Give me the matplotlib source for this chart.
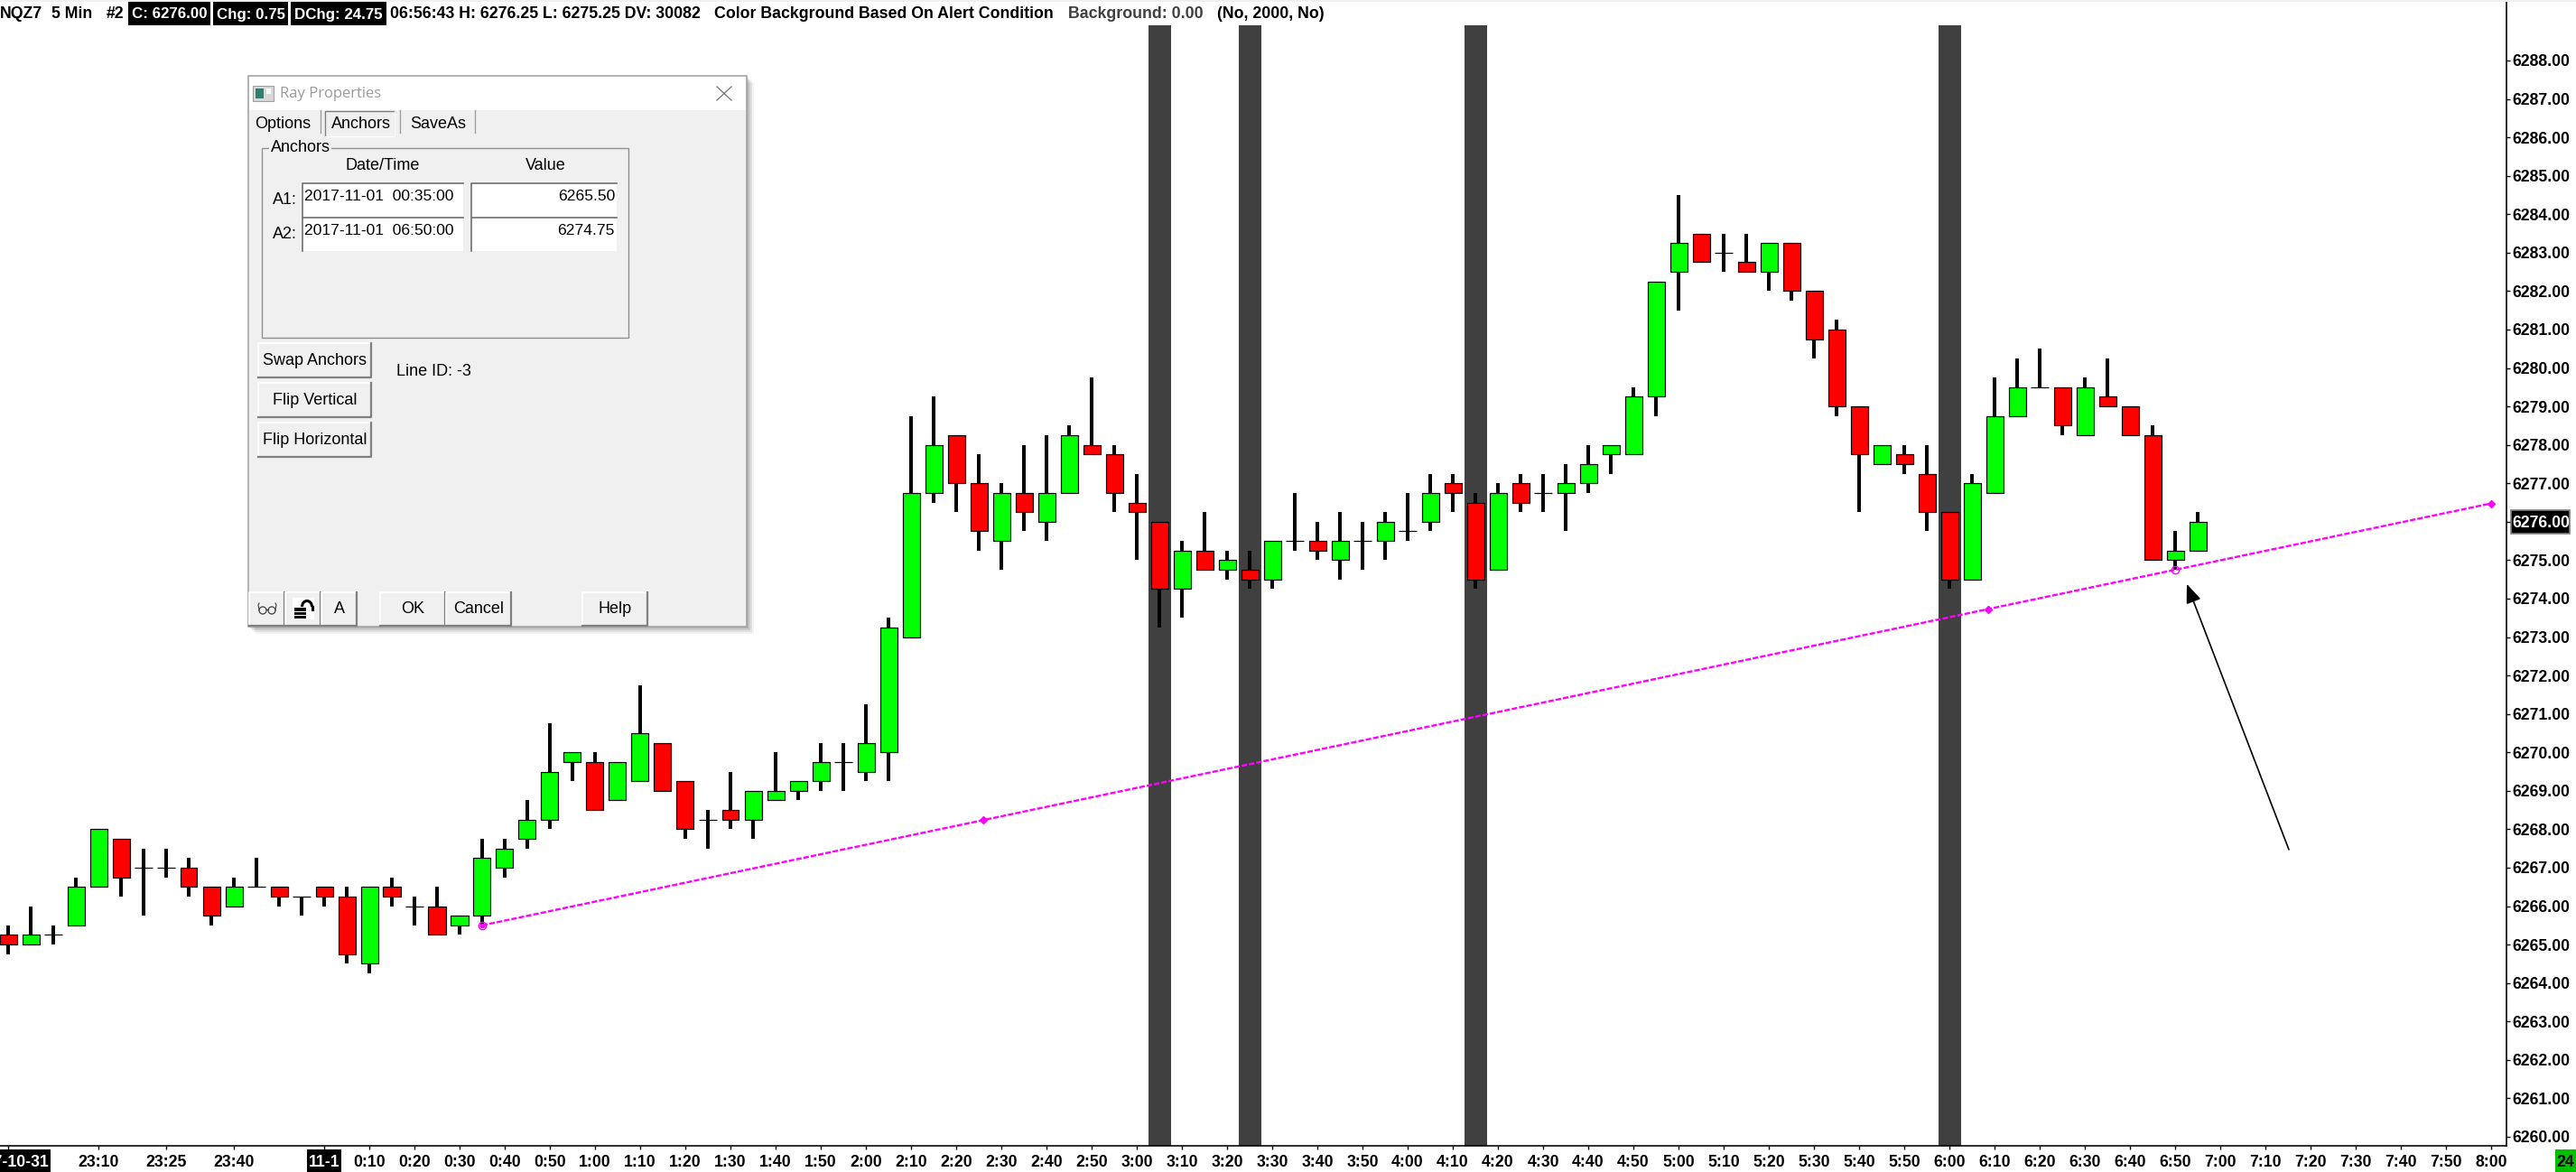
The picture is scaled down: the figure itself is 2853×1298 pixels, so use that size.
import matplotlib
matplotlib.use('Agg')
import matplotlib.pyplot as plt
from matplotlib.patches import Rectangle, Circle, Arc

#=========================#
# data
#=========================#

bar_open = [
    6265.25, 6265.00, 6265.25, 6265.50, 6266.50, 6267.75, 6267.00, 6267.00, 6267.00, 6266.50,
    6266.00, 6266.50, 6266.50, 6266.25, 6266.50, 6266.25, 6264.50, 6266.50, 6266.00, 6266.00,
    6265.50, 6265.75, 6267.00, 6267.75, 6268.25, 6269.75, 6269.75, 6268.75, 6269.25, 6270.25,
    6269.25, 6268.25, 6268.50, 6268.25, 6268.75, 6269.00, 6269.25, 6269.75, 6269.50, 6270.00,
    6273.00, 6276.75, 6278.25, 6277.00, 6275.50, 6276.75, 6276.00, 6276.75, 6278.00, 6277.75,
    6276.50, 6276.00, 6274.25, 6275.25, 6274.75, 6274.75, 6274.50, 6275.50, 6275.50, 6275.00,
    6275.50, 6275.50, 6275.75, 6276.00, 6277.00, 6276.50, 6274.75, 6277.00, 6276.75, 6276.75,
    6277.00, 6277.75, 6277.75, 6279.25, 6282.50, 6283.50, 6283.00, 6282.75, 6282.50, 6283.25,
    6282.00, 6281.00, 6279.00, 6277.50, 6277.75, 6277.25, 6276.25, 6274.50, 6276.75, 6278.75,
    6279.50, 6279.50, 6278.25, 6279.25, 6279.00, 6278.25, 6275.00, 6275.25,
]
bar_close = [
    6265.00, 6265.25, 6265.25, 6266.50, 6268.00, 6266.75, 6267.00, 6267.00, 6266.50, 6265.75,
    6266.50, 6266.50, 6266.25, 6266.25, 6266.25, 6264.75, 6266.50, 6266.25, 6266.00, 6265.25,
    6265.75, 6267.25, 6267.50, 6268.25, 6269.50, 6270.00, 6268.50, 6269.75, 6270.50, 6269.00,
    6268.00, 6268.25, 6268.25, 6269.00, 6269.00, 6269.25, 6269.75, 6269.75, 6270.25, 6273.25,
    6276.75, 6278.00, 6277.00, 6275.75, 6276.75, 6276.25, 6276.75, 6278.25, 6277.75, 6276.75,
    6276.25, 6274.25, 6275.25, 6274.75, 6275.00, 6274.50, 6275.50, 6275.50, 6275.25, 6275.50,
    6275.50, 6276.00, 6275.75, 6276.75, 6276.75, 6274.50, 6276.75, 6276.50, 6276.75, 6277.00,
    6277.50, 6278.00, 6279.25, 6282.25, 6283.25, 6282.75, 6283.00, 6282.50, 6283.25, 6282.00,
    6280.75, 6279.00, 6277.75, 6278.00, 6277.50, 6276.25, 6274.50, 6277.00, 6278.75, 6279.50,
    6279.50, 6278.50, 6279.50, 6279.00, 6278.25, 6275.00, 6275.25, 6276.00,
]
bar_high = [
    6265.50, 6266.00, 6265.50, 6266.75, 6268.00, 6267.75, 6267.50, 6267.50, 6267.25, 6266.50,
    6266.75, 6267.25, 6266.50, 6266.25, 6266.50, 6266.50, 6266.50, 6266.75, 6266.25, 6266.50,
    6265.75, 6267.75, 6267.75, 6268.75, 6270.75, 6270.00, 6270.00, 6269.75, 6271.75, 6270.25,
    6269.25, 6268.50, 6269.50, 6269.00, 6270.00, 6269.25, 6270.25, 6270.25, 6271.25, 6273.50,
    6278.75, 6279.25, 6278.25, 6277.75, 6277.00, 6278.00, 6278.25, 6278.50, 6279.75, 6278.00,
    6277.25, 6276.00, 6275.50, 6276.25, 6275.25, 6275.25, 6275.50, 6276.75, 6276.00, 6276.25,
    6276.00, 6276.25, 6276.75, 6277.25, 6277.25, 6276.75, 6277.00, 6277.25, 6277.25, 6277.50,
    6278.00, 6278.00, 6279.50, 6282.25, 6284.50, 6283.50, 6283.50, 6283.50, 6283.25, 6283.25,
    6282.00, 6281.25, 6279.00, 6278.00, 6278.00, 6278.00, 6276.25, 6277.25, 6279.75, 6280.25,
    6280.50, 6279.50, 6279.75, 6280.25, 6279.00, 6278.50, 6275.75, 6276.25,
]
bar_low = [
    6264.75, 6265.00, 6265.00, 6265.50, 6266.50, 6266.25, 6265.75, 6266.75, 6266.25, 6265.50,
    6266.00, 6266.50, 6266.00, 6265.75, 6266.00, 6264.50, 6264.25, 6266.00, 6265.50, 6265.25,
    6265.25, 6265.50, 6266.75, 6267.50, 6268.00, 6269.25, 6268.50, 6268.75, 6269.25, 6269.00,
    6267.75, 6267.50, 6268.00, 6267.75, 6268.75, 6268.75, 6269.00, 6269.00, 6269.25, 6269.25,
    6273.00, 6276.50, 6276.25, 6275.25, 6274.75, 6275.75, 6275.50, 6276.75, 6277.75, 6276.25,
    6275.00, 6273.25, 6273.50, 6274.75, 6274.50, 6274.25, 6274.25, 6275.25, 6275.00, 6274.50,
    6274.75, 6275.00, 6275.50, 6275.75, 6276.25, 6274.25, 6274.75, 6276.25, 6276.25, 6275.75,
    6276.75, 6277.25, 6277.75, 6278.75, 6281.50, 6282.75, 6282.50, 6282.50, 6282.00, 6281.75,
    6280.25, 6278.75, 6276.25, 6277.50, 6277.25, 6275.75, 6274.25, 6274.50, 6276.75, 6278.75,
    6279.50, 6278.25, 6278.25, 6279.00, 6278.25, 6275.00, 6274.75, 6275.25,
]

# bars with the alert background (3:05, 3:25, 4:15, 6:00)
alert_bars = [51, 55, 65, 86]

# ray anchors (bar, price) and its small diamonds
anchor_bars = [21, 96]
anchor_prices = [6265.50, 6274.75]
ray_end_bar = 110
ray_mark_bars = [43.2, 87.7, 110]

price_ticks = [6288, 6287, 6286, 6285, 6284, 6283, 6282, 6281, 6280, 6279, 6278, 6277, 6276, 6275,
               6274, 6273, 6272, 6271, 6270, 6269, 6268, 6267, 6266, 6265, 6264, 6263, 6262, 6261, 6260]

time_tick_bars = [0, 4, 7, 10, 14] + list(range(16, 111, 2))
time_tick_labels = ['2017-10-31', '23:10', '23:25', '23:40', '11-1',
                    '0:10', '0:20', '0:30', '0:40', '0:50', '1:00', '1:10', '1:20', '1:30', '1:40', '1:50',
                    '2:00', '2:10', '2:20', '2:30', '2:40', '2:50', '3:00', '3:10', '3:20', '3:30', '3:40', '3:50',
                    '4:00', '4:10', '4:20', '4:30', '4:40', '4:50', '5:00', '5:10', '5:20', '5:30', '5:40', '5:50',
                    '6:00', '6:10', '6:20', '6:30', '6:40', '6:50', '7:00', '7:10', '7:20', '7:30', '7:40', '7:50', '8:00']

#=========================#
# settings
#=========================#

W, H = 2853, 1298
chart_font = 'Liberation Sans'
tick_size = 12.7
green = '#00ff00'
red = '#ff0000'
magenta = '#ff00ff'
px = 0.72  # one pixel in points at dpi 100

fig = plt.figure(figsize=(W / 100, H / 100), dpi=100, facecolor='white')


def pixel_axes(zorder):
    a = fig.add_axes([0, 0, 1, 1], zorder=zorder)
    a.set_xlim(0, W)
    a.set_ylim(H, 0)
    a.axis('off')
    a.patch.set_alpha(0)
    return a


# black label boxes sit under the chart's tick labels
under = pixel_axes(-1)
under.add_patch(Rectangle((0, 1273), 56, 25, facecolor='black', lw=0))
under.add_patch(Rectangle((340, 1273), 38, 25, facecolor='black', lw=0))
under.add_patch(Rectangle((2781, 565), 65, 26, facecolor='black', edgecolor='#808080', lw=1.2))

# chart area runs to x=2776 and y=1269 in pixels
ax = fig.add_axes([0, 1 - 1269 / H, 2776 / W, (1269 - 2) / H])
ax.set_xlim(-9 / 25, (2776 - 9) / 25)
ax.set_ylim(6288 - (1269 - 67) / 42.57, 6288 + (67 - 2) / 42.57)

#=========================#
# candles
#=========================#

for b in alert_bars:
    ax.axvspan(b - 0.5, b + 0.5, ymax=1 - 26 / 1267, color='#404040', lw=0, zorder=1)

for i in range(len(bar_open)):
    o, c = bar_open[i], bar_close[i]
    ax.vlines(i, bar_low[i], bar_high[i], color='black', lw=4 * px, zorder=2)
    if o == c:
        ax.hlines(o, i - 0.4, i + 0.4, color='black', lw=1.2 * px, zorder=3)
    else:
        ax.bar(i, abs(c - o), 0.76, bottom=min(o, c), color=green if c > o else red,
               edgecolor='black', linewidth=1.2 * px, zorder=3)

#=========================#
# ray and arrow
#=========================#

slope = (anchor_prices[1] - anchor_prices[0]) / (anchor_bars[1] - anchor_bars[0])
ray_value = lambda b: anchor_prices[0] + slope * (b - anchor_bars[0])

ax.plot([anchor_bars[0], ray_end_bar], [anchor_prices[0], ray_value(ray_end_bar)], color=magenta,
        lw=1.7, dashes=(2.6, 0.9), zorder=4)
ax.plot(ray_mark_bars, [ray_value(b) for b in ray_mark_bars], ls='none', marker='D', ms=4,
        color=magenta, zorder=5)
ax.plot(anchor_bars, anchor_prices, ls='none', marker='o', ms=6, mfc='none', mec=magenta,
        mew=1, zorder=5)
ax.plot(anchor_bars[0], anchor_prices[0], ls='none', marker='o', ms=3, color=magenta, zorder=5)

ax.annotate('', xy=(96.52, 6274.38), xytext=(101.04, 6267.47),
            arrowprops=dict(arrowstyle='-|>,head_length=0.8,head_width=0.32', color='black',
                            lw=1.2, mutation_scale=16, shrinkA=0, shrinkB=0), zorder=6)

#=========================#
# axes
#=========================#

ax.spines['left'].set_visible(False)
ax.spines['top'].set_visible(False)
ax.spines['right'].set_linewidth(1.6 * px)
ax.spines['bottom'].set_linewidth(1.6 * px)

ax.yaxis.tick_right()
ax.set_yticks(price_ticks)
ax.set_yticklabels(['%.2f' % p for p in price_ticks], fontfamily=chart_font, fontweight='bold',
                   fontsize=tick_size)
ax.tick_params(axis='y', length=3, width=1, pad=1.5)

ax.set_xticks(time_tick_bars)
ax.set_xticklabels(time_tick_labels, fontfamily=chart_font, fontweight='bold', fontsize=tick_size)
ax.tick_params(axis='x', length=3, width=1, pad=4)

for label in ax.get_yticklabels():
    if label.get_text() == '6276.00':
        label.set_color('white')
for label in ax.get_xticklabels():
    if label.get_text() in ('2017-10-31', '11-1'):
        label.set_color('white')

#=========================#
# overlay in pixels: header and dialog
#=========================#

ov = pixel_axes(10)


def box(x0, y0, x1, y1, fc, ec='none', lw=0, zorder=1, alpha=None):
    ov.add_patch(Rectangle((x0, y0), x1 - x0, y1 - y0, facecolor=fc, edgecolor=ec, linewidth=lw,
                           zorder=zorder, alpha=alpha))


def head(x, s, color='black', ha='left', size=12.8):
    ov.text(x, 16, s, color=color, ha=ha, va='center', fontfamily=chart_font, fontweight='bold',
            fontsize=size, zorder=3)


box(0, 0, W, 2, '#f0f0f0')
head(0, 'NQZ7')
head(57, '5 Min')
head(118, '#2')
box(142, 2, 233, 28, 'black')
box(236, 2, 319, 28, 'black')
box(322, 2, 428, 28, 'black')
head(187.5, 'C: 6276.00', 'white', 'center', 12.2)
head(277.5, 'Chg: 0.75', 'white', 'center', 12.2)
head(375, 'DChg: 24.75', 'white', 'center', 12.2)
head(432, '06:56:43 H: 6276.25 L: 6275.25 DV: 30082')
head(791, 'Color Background Based On Alert Condition')
head(1183, 'Background: 0.00', '#404040')
head(1348, '(No, 2000, No)')

# green box bottom right
box(2830, 1273, W, H, '#00c000')
ov.text(2841, 1287, '24', ha='center', va='center', fontfamily=chart_font, fontweight='bold',
        fontsize=tick_size)


def dlg(x, y, s, ha='center', color='black', size=13, family='Liberation Sans'):
    ov.text(x, y, s, ha=ha, va='center', color=color, fontsize=size, fontfamily=family, zorder=6)


def button(x0, y0, x1, y1, s=None):
    box(x0, y0, x1, y1, '#f0f0f0', zorder=4)
    ov.plot([x0, x0, x1], [y1, y0, y0], color='white', lw=1.2, zorder=5)
    ov.plot([x0, x1, x1], [y1, y1, y0], color='#808080', lw=1.6, zorder=5)
    if s:
        dlg((x0 + x1) / 2, (y0 + y1) / 2, s)


# soft shadow, then the window
for off, a in ((8, 0.05), (6, 0.07), (4, 0.09), (2, 0.12)):
    box(275 + off, 84 + off, 827 + off, 694 + off, 'black', alpha=a, zorder=1)
box(275, 84, 827, 694, '#f0f0f0', ec='#a6a6a6', lw=1.2, zorder=2)
box(276, 85, 826, 122, 'white', zorder=3)

box(280, 95, 303, 112, '#d8d8d8', ec='#a0a0a0', lw=0.8, zorder=4)
box(283, 98, 292, 109, '#2f7f6f', zorder=5)
box(295, 98, 300, 104, 'white', zorder=5)
dlg(310, 104, 'Ray Properties', ha='left', color='#9a9a9a', size=12, family='Open Sans')
ov.plot([794, 810], [96, 111], color='#707070', lw=0.9, zorder=5)
ov.plot([794, 810], [111, 96], color='#707070', lw=0.9, zorder=5)

dlg(313, 137, 'Options')
dlg(400, 137, 'Anchors')
dlg(485, 137, 'SaveAs')
for tx in (354.5, 442.5, 526):
    ov.plot([tx, tx], [122, 147], color='#a0a0a0', lw=1, zorder=5)
ov.plot([360, 360, 437], [151, 123, 123], color='#808080', lw=1, zorder=5)
ov.plot([360, 437, 437], [151, 151, 123], color='white', lw=1, zorder=5)

box(289.5, 163.5, 695.5, 373.5, '#f0f0f0', ec='#909090', lw=1, zorder=3)
box(298, 158, 367, 170, '#f0f0f0', zorder=4)
dlg(332.5, 164, 'Anchors')
dlg(424, 183, 'Date/Time')
dlg(604, 183, 'Value')
dlg(302, 222, 'A1:', ha='left')
dlg(302, 260, 'A2:', ha='left')

for y0, y1, stamp, value in ((203, 240, '2017-11-01  00:35:00', '6265.50'),
                             (241, 278, '2017-11-01  06:50:00', '6274.75')):
    for x0, x1 in ((335, 513), (522, 683)):
        box(x0, y0, x1, y1, 'white', zorder=4)
        ov.plot([x0, x0, x1], [y1, y0, y0], color='#707070', lw=1.2, zorder=5)
    dlg(337, y0 + 14, stamp, ha='left', size=12.6)
    dlg(681, y0 + 14, value, ha='right', size=12.6)

button(286, 380, 411, 418, 'Swap Anchors')
button(286, 424, 411, 462, 'Flip Vertical')
button(286, 468, 411, 506, 'Flip Horizontal')
dlg(439, 412, 'Line ID: -3', ha='left')

button(276, 656, 315, 693)
button(316, 656, 355, 693)
button(356, 656, 395, 693, 'A')
button(421, 656, 493, 693, 'OK')
button(494, 656, 566, 693, 'Cancel')
button(645, 656, 717, 693, 'Help')

# glasses icon
for cx in (291, 301):
    ov.add_patch(Circle((cx, 676), 4, facecolor='none', edgecolor='#404040', lw=0.9, zorder=6))
ov.plot([295, 297], [675, 675], color='#404040', lw=0.9, zorder=6)
ov.plot([287, 286, 287], [676, 670, 668], color='#404040', lw=0.8, zorder=6)
ov.plot([305, 306, 305], [676, 670, 668], color='#404040', lw=0.8, zorder=6)

# open lock icon
box(324, 662, 348, 686, 'white', zorder=5)
box(326, 673, 339, 685, 'black', zorder=6)
for ly in (677, 681):
    ov.plot([326, 339], [ly, ly], color='white', lw=0.8, zorder=7)
ov.add_patch(Arc((340, 672), 11, 13, theta1=180, theta2=360, color='black', lw=2.2, zorder=6))
ov.plot([345.5, 345.5], [672, 675], color='black', lw=2.2, zorder=6)

fig.savefig('out.png', dpi=100)
